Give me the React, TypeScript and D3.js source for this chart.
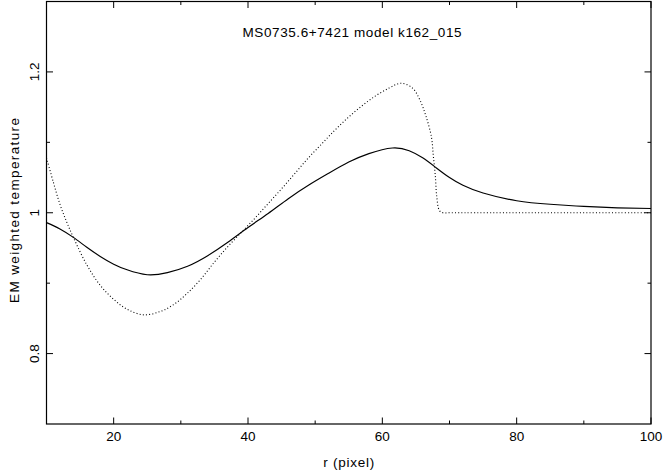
import React from "react";
import * as d3 from "d3";

const title = "MS0735.6+7421 model k162_015";
const xLabel = "r (pixel)";
const yLabel = "EM weighted temperature";

const xMajorTicks = [20, 40, 60, 80, 100];
const xMinorTicks = [30, 50, 70, 90];
const yMajorTicks = [0.8, 1, 1.2];
const yMinorTicks = [0.9, 1.1];
const yTickLabels = ["0.8", "1", "1.2"];

const rSolid = [10, 12, 14, 16, 18, 20, 22, 25, 28, 31, 34, 37, 40, 43, 46, 49, 52, 55, 58, 61.5, 64, 66, 68, 70, 72, 75, 80, 85, 90, 95, 100];
const tSolid = [0.986, 0.977, 0.965, 0.951, 0.938, 0.927, 0.919, 0.912, 0.915, 0.924, 0.939, 0.958, 0.979, 0.999, 1.020, 1.039, 1.056, 1.072, 1.084, 1.092, 1.088, 1.078, 1.064, 1.050, 1.039, 1.028, 1.017, 1.012, 1.009, 1.007, 1.006];

const rDotted = [10, 11, 12, 13, 14, 16, 18, 20, 22, 24.5, 27, 29, 31, 33, 35, 37, 39, 41, 43, 45, 47, 49, 51, 53, 55, 57, 59, 61, 62.8, 64.5, 65.6, 66.5, 67.3, 67.6, 67.9, 68.1, 68.5, 69, 70, 100];
const tDotted = [1.078, 1.044, 1.012, 0.987, 0.965, 0.926, 0.897, 0.877, 0.863, 0.855, 0.860, 0.870, 0.886, 0.906, 0.930, 0.952, 0.972, 0.992, 1.013, 1.034, 1.056, 1.078, 1.098, 1.118, 1.136, 1.152, 1.166, 1.177, 1.184, 1.177, 1.160, 1.137, 1.108, 1.080, 1.051, 1.023, 1.003, 1.0, 1.0, 1.0];

const W = 663;
const H = 476;
const left = 46.5;
const right = 651;
const top = 1.5;
const bottom = 424;

export default function App() {
  const x = d3.scaleLinear().domain([10, 100]).range([left, right]);
  const y = d3.scaleLinear().domain([0.7, 1.3]).range([bottom, top]);

  const solidLine = d3
    .line<[number, number]>()
    .x((d) => x(d[0]))
    .y((d) => y(d[1]))
    .curve(d3.curveNatural);
  const dottedLine = d3
    .line<[number, number]>()
    .x((d) => x(d[0]))
    .y((d) => y(d[1]))
    .curve(d3.curveCatmullRom.alpha(0.5));

  const solidPts: [number, number][] = rSolid.map((r, i) => [r, tSolid[i]]);
  const dottedPts: [number, number][] = rDotted.map((r, i) => [r, tDotted[i]]);

  const font = "'Liberation Sans', Arial, Helvetica, sans-serif";
  const fs = 13.5;
  const major = 6.5;
  const minor = 3.5;

  return (
    <svg
      width={W}
      height={H}
      style={{ position: "absolute", left: 0, top: 0, background: "#fff" }}
      fontFamily={font}
    >
      <rect x={0} y={0} width={W} height={H} fill="#fff" />
      <rect x={left} y={top} width={right - left} height={bottom - top} fill="none" stroke="#000" strokeWidth={1.2} />
      {xMajorTicks.map((t) => (
        <g key={"xM" + t}>
          <line x1={x(t)} x2={x(t)} y1={bottom} y2={bottom - major} stroke="#000" strokeWidth={1} />
          <line x1={x(t)} x2={x(t)} y1={top} y2={top + major} stroke="#000" strokeWidth={1} />
          <text x={x(t)} y={441} fontSize={fs} textAnchor="middle" fill="#000">
            {t}
          </text>
        </g>
      ))}
      {xMinorTicks.map((t) => (
        <g key={"xm" + t}>
          <line x1={x(t)} x2={x(t)} y1={bottom} y2={bottom - minor} stroke="#000" strokeWidth={1} />
          <line x1={x(t)} x2={x(t)} y1={top} y2={top + minor} stroke="#000" strokeWidth={1} />
        </g>
      ))}
      {yMajorTicks.map((t, i) => (
        <g key={"yM" + t}>
          <line x1={left} x2={left + major} y1={y(t)} y2={y(t)} stroke="#000" strokeWidth={1} />
          <line x1={right} x2={right - major} y1={y(t)} y2={y(t)} stroke="#000" strokeWidth={1} />
          <text
            transform={`translate(38.5,${y(t)}) rotate(-90)`}
            fontSize={fs}
            textAnchor="middle"
            fill="#000"
          >
            {yTickLabels[i]}
          </text>
        </g>
      ))}
      {yMinorTicks.map((t) => (
        <g key={"ym" + t}>
          <line x1={left} x2={left + minor} y1={y(t)} y2={y(t)} stroke="#000" strokeWidth={1} />
          <line x1={right} x2={right - minor} y1={y(t)} y2={y(t)} stroke="#000" strokeWidth={1} />
        </g>
      ))}
      <path d={dottedLine(dottedPts) || ""} fill="none" stroke="#000" strokeWidth={1.1} strokeDasharray="1 2.2" />
      <path d={solidLine(solidPts) || ""} fill="none" stroke="#000" strokeWidth={1.15} />
      <text x={352} y={37} fontSize={fs} textAnchor="middle" textLength={219} lengthAdjust="spacing" fill="#000">
        {title}
      </text>
      <text x={348.7} y={467} fontSize={fs} textAnchor="middle" textLength={51} lengthAdjust="spacing" fill="#000">
        {xLabel}
      </text>
      <text
        transform={`translate(18.5,210.5) rotate(-90)`}
        fontSize={fs}
        textAnchor="middle"
        textLength={185}
        lengthAdjust="spacing"
        fill="#000"
      >
        {yLabel}
      </text>
    </svg>
  );
}
